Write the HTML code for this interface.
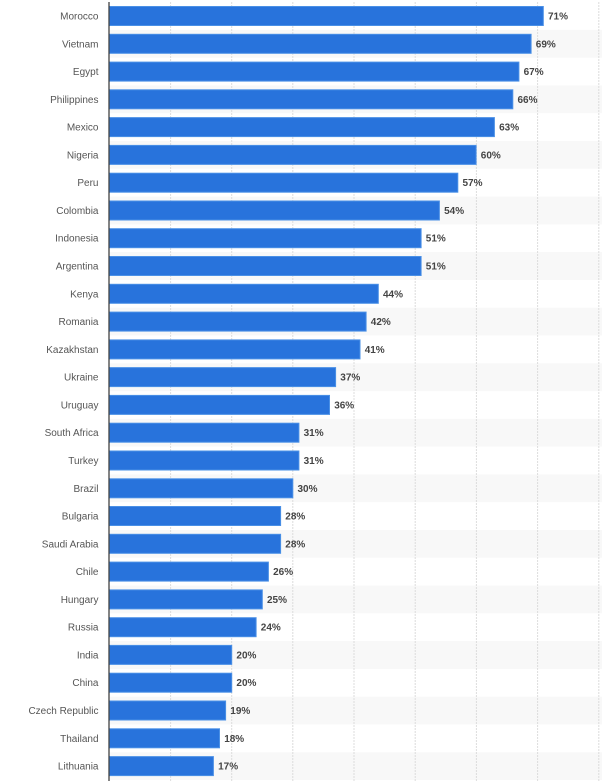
<!DOCTYPE html>
<html><head><meta charset="utf-8"><style>
html,body{margin:0;padding:0;background:#fff;}
svg{display:block;}
text{font-family:"Liberation Sans",Arial,sans-serif;font-size:10px;}
.l{fill:#555;text-anchor:end;}
.v{fill:#444;font-weight:bold;}
</style></head><body>
<svg width="602" height="781" viewBox="0 0 602 781" xmlns="http://www.w3.org/2000/svg">
<g fill="#f8f8f8">
<rect x="109" y="29.9" width="493" height="27.78"/>
<rect x="109" y="85.4" width="493" height="27.78"/>
<rect x="109" y="141.0" width="493" height="27.78"/>
<rect x="109" y="196.6" width="493" height="27.78"/>
<rect x="109" y="252.1" width="493" height="27.78"/>
<rect x="109" y="307.7" width="493" height="27.78"/>
<rect x="109" y="363.3" width="493" height="27.78"/>
<rect x="109" y="418.8" width="493" height="27.78"/>
<rect x="109" y="474.4" width="493" height="27.78"/>
<rect x="109" y="530.0" width="493" height="27.78"/>
<rect x="109" y="585.5" width="493" height="27.78"/>
<rect x="109" y="641.1" width="493" height="27.78"/>
<rect x="109" y="696.7" width="493" height="27.78"/>
<rect x="109" y="752.2" width="493" height="27.78"/>
</g>
<g stroke="#dcdcdc" stroke-width="1" stroke-dasharray="2,1">
<line x1="170.6" y1="2" x2="170.6" y2="781"/>
<line x1="231.7" y1="2" x2="231.7" y2="781"/>
<line x1="292.8" y1="2" x2="292.8" y2="781"/>
<line x1="354" y1="2" x2="354" y2="781"/>
<line x1="415.2" y1="2" x2="415.2" y2="781"/>
<line x1="476.4" y1="2" x2="476.4" y2="781"/>
<line x1="537.6" y1="2" x2="537.6" y2="781"/>
<line x1="598.8" y1="2" x2="598.8" y2="781"/>
</g>
<g fill="#2873dc" stroke="#4a90e6" stroke-width="1">
<rect x="109.5" y="6.5" width="433.8" height="19"/>
<rect x="109.5" y="34.3" width="421.6" height="19"/>
<rect x="109.5" y="62.1" width="409.4" height="19"/>
<rect x="109.5" y="89.8" width="403.3" height="19"/>
<rect x="109.5" y="117.6" width="384.9" height="19"/>
<rect x="109.5" y="145.4" width="366.6" height="19"/>
<rect x="109.5" y="173.2" width="348.3" height="19"/>
<rect x="109.5" y="201.0" width="329.9" height="19"/>
<rect x="109.5" y="228.7" width="311.6" height="19"/>
<rect x="109.5" y="256.5" width="311.6" height="19"/>
<rect x="109.5" y="284.3" width="268.8" height="19"/>
<rect x="109.5" y="312.1" width="256.6" height="19"/>
<rect x="109.5" y="339.9" width="250.5" height="19"/>
<rect x="109.5" y="367.6" width="226.1" height="19"/>
<rect x="109.5" y="395.4" width="220.0" height="19"/>
<rect x="109.5" y="423.2" width="189.4" height="19"/>
<rect x="109.5" y="451.0" width="189.4" height="19"/>
<rect x="109.5" y="478.8" width="183.3" height="19"/>
<rect x="109.5" y="506.5" width="171.1" height="19"/>
<rect x="109.5" y="534.3" width="171.1" height="19"/>
<rect x="109.5" y="562.1" width="158.9" height="19"/>
<rect x="109.5" y="589.9" width="152.8" height="19"/>
<rect x="109.5" y="617.7" width="146.6" height="19"/>
<rect x="109.5" y="645.4" width="122.2" height="19"/>
<rect x="109.5" y="673.2" width="122.2" height="19"/>
<rect x="109.5" y="701.0" width="116.1" height="19"/>
<rect x="109.5" y="728.8" width="110.0" height="19"/>
<rect x="109.5" y="756.6" width="103.9" height="19"/>
</g>
<line x1="109" y1="2" x2="109" y2="781" stroke="#333" stroke-width="1.2"/>
<g class="l">
<text x="98.5" y="19.5">Morocco</text>
<text x="98.5" y="47.3">Vietnam</text>
<text x="98.5" y="75.1">Egypt</text>
<text x="98.5" y="102.8">Philippines</text>
<text x="98.5" y="130.6">Mexico</text>
<text x="98.5" y="158.4">Nigeria</text>
<text x="98.5" y="186.2">Peru</text>
<text x="98.5" y="214.0">Colombia</text>
<text x="98.5" y="241.7">Indonesia</text>
<text x="98.5" y="269.5">Argentina</text>
<text x="98.5" y="297.3">Kenya</text>
<text x="98.5" y="325.1">Romania</text>
<text x="98.5" y="352.9">Kazakhstan</text>
<text x="98.5" y="380.6">Ukraine</text>
<text x="98.5" y="408.4">Uruguay</text>
<text x="98.5" y="436.2">South Africa</text>
<text x="98.5" y="464.0">Turkey</text>
<text x="98.5" y="491.8">Brazil</text>
<text x="98.5" y="519.5">Bulgaria</text>
<text x="98.5" y="547.3">Saudi Arabia</text>
<text x="98.5" y="575.1">Chile</text>
<text x="98.5" y="602.9">Hungary</text>
<text x="98.5" y="630.7">Russia</text>
<text x="98.5" y="658.4">India</text>
<text x="98.5" y="686.2">China</text>
<text x="98.5" y="714.0">Czech Republic</text>
<text x="98.5" y="741.8">Thailand</text>
<text x="98.5" y="769.6">Lithuania</text>
</g>
<g class="v">
<text x="548" y="19.5">71%</text>
<text x="535.8" y="47.3">69%</text>
<text x="523.6" y="75.1">67%</text>
<text x="517.5" y="102.8">66%</text>
<text x="499.1" y="130.6">63%</text>
<text x="480.8" y="158.4">60%</text>
<text x="462.5" y="186.2">57%</text>
<text x="444.1" y="214.0">54%</text>
<text x="425.8" y="241.7">51%</text>
<text x="425.8" y="269.5">51%</text>
<text x="383" y="297.3">44%</text>
<text x="370.8" y="325.1">42%</text>
<text x="364.7" y="352.9">41%</text>
<text x="340.3" y="380.6">37%</text>
<text x="334.2" y="408.4">36%</text>
<text x="303.6" y="436.2">31%</text>
<text x="303.6" y="464.0">31%</text>
<text x="297.5" y="491.8">30%</text>
<text x="285.3" y="519.5">28%</text>
<text x="285.3" y="547.3">28%</text>
<text x="273.1" y="575.1">26%</text>
<text x="267" y="602.9">25%</text>
<text x="260.8" y="630.7">24%</text>
<text x="236.4" y="658.4">20%</text>
<text x="236.4" y="686.2">20%</text>
<text x="230.3" y="714.0">19%</text>
<text x="224.2" y="741.8">18%</text>
<text x="218.1" y="769.6">17%</text>
</g>
</svg>
</body></html>
